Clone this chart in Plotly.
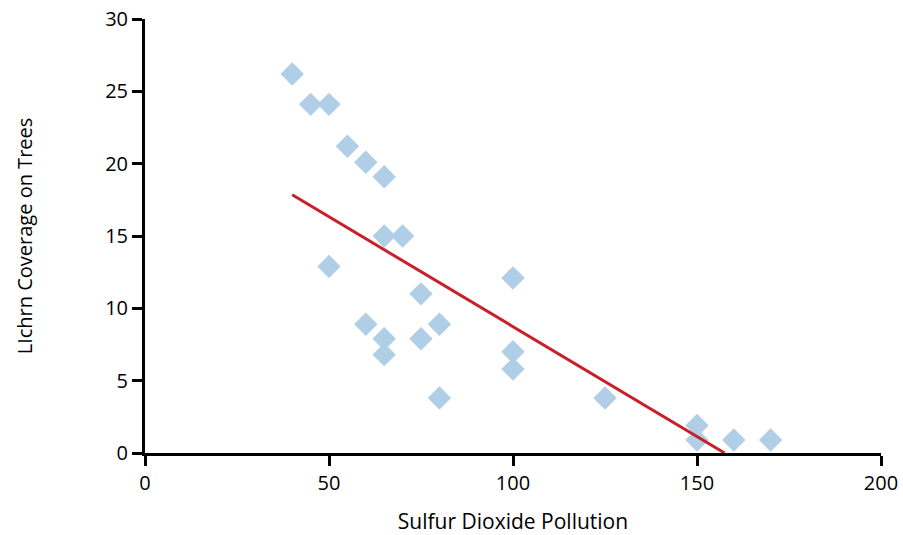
import plotly.graph_objects as go

pollution = [40, 45, 50, 55, 60, 65, 65, 70, 50, 75, 60, 65, 65, 75, 80, 80,
             100, 100, 100, 125, 150, 150, 160, 170]
lichen = [26.2, 24.1, 24.1, 21.2, 20.1, 19.1, 15.0, 15.0, 12.9, 11.0, 8.9, 7.9,
          6.8, 7.9, 8.9, 3.8, 12.1, 7.0, 5.8, 3.8, 1.9, 0.9, 0.9, 0.9]

trend_x = [40, 157.5]
trend_y = [17.85, 0]

x_ticks = [0, 50, 100, 150, 200]
y_ticks = [0, 5, 10, 15, 20, 25, 30]

font_family = "Open Sans, Lato, sans-serif"

fig = go.Figure()
fig.add_trace(go.Scatter(
    x=pollution, y=lichen, mode="markers",
    marker=dict(symbol="diamond", size=18, color="rgb(176,206,229)", line=dict(width=0)),
    cliponaxis=False, showlegend=False,
))
fig.add_trace(go.Scatter(
    x=trend_x, y=trend_y, mode="lines",
    line=dict(color="rgb(200,32,42)", width=3),
    cliponaxis=False, showlegend=False,
))

axis_common = dict(
    showgrid=False, zeroline=False, showline=True, linecolor="black", linewidth=3,
    ticks="outside", ticklen=10, tickwidth=3, tickcolor="black", automargin=False,
    tickfont=dict(family=font_family, size=20, color="black"),
)

fig.update_layout(
    template="none",
    width=903, height=535,
    margin=dict(l=145, r=22, t=19, b=82),
    plot_bgcolor="white", paper_bgcolor="white",
    font=dict(family=font_family, color="black"),
    xaxis=dict(range=[0, 200], tickvals=x_ticks,
               title=dict(text="Sulfur Dioxide Pollution", font=dict(size=21, color="black"), standoff=24),
               **axis_common),
    yaxis=dict(range=[0, 30], tickvals=y_ticks,
               title=dict(text="LIchrn Coverage on Trees", font=dict(size=20, color="black"), standoff=68),
               **axis_common),
)

fig.write_html("out.html", config={"displayModeBar": False},
               post_script="document.body.style.margin='0';")
